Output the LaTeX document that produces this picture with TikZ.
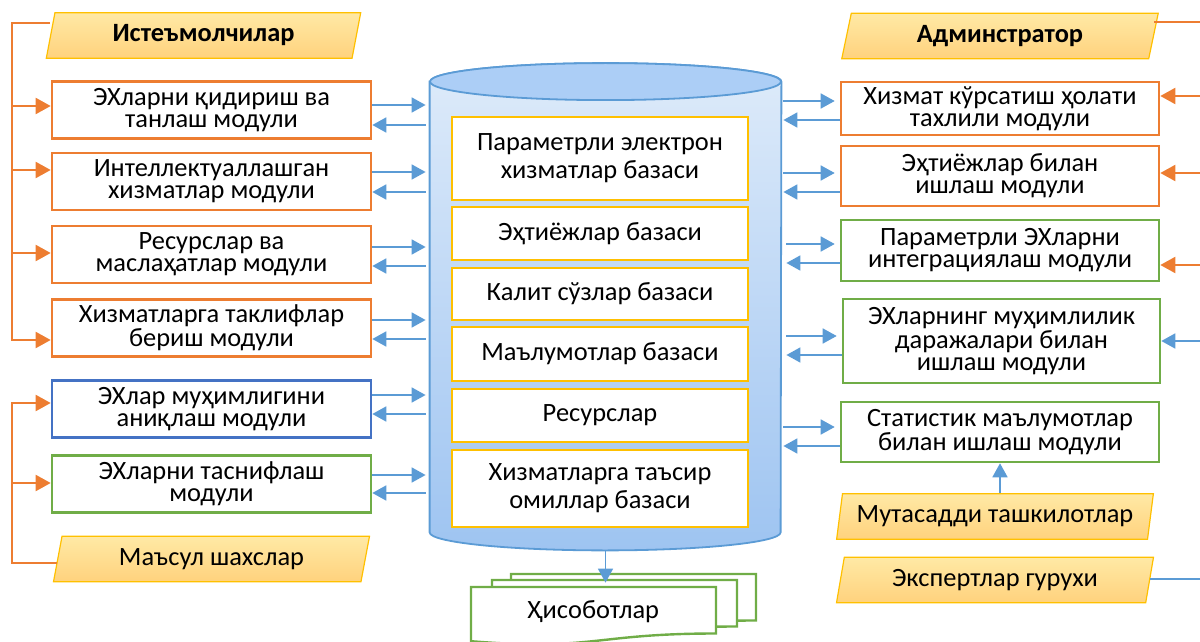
\documentclass[tikz,border=0pt]{standalone}
\usepackage{fontspec}
\setmainfont{Carlito}
\usepackage{tikz}
\usetikzlibrary{arrows.meta,shapes.geometric}

\definecolor{orln}{RGB}{237,125,49}
\definecolor{blln}{RGB}{91,155,213}
\definecolor{grln}{RGB}{112,173,71}
\definecolor{dkbl}{RGB}{68,114,196}
\definecolor{gold}{RGB}{255,192,0}
\definecolor{partop}{RGB}{255,233,165}
\definecolor{parbot}{RGB}{255,210,125}
\definecolor{cyltop}{RGB}{222,235,250}
\definecolor{cylbot}{RGB}{158,196,241}
\definecolor{cylcap}{RGB}{172,206,246}

\newcommand{\repdoc}[2]{\draw[docbox] (#1,#2) -- ++(245,0) -- ++(0,46.5) .. controls +(-122.5,0) and +(122.5,10) .. ++(-245,7.7) -- cycle;}

\begin{document}
\begin{tikzpicture}[x=0.5pt,y=-0.5pt,
	every node/.style={font=\fontsize{13.2pt}{11pt}\selectfont},
	modbox/.style={draw, line width=1.3pt, fill=white, minimum width=159.5pt, minimum height=28.5pt, align=center, inner sep=0pt},
	orbox/.style={modbox, draw=orln},
	grbox/.style={modbox, draw=grln},
	bubox/.style={modbox, draw=dkbl},
	dbpart/.style={draw=gold, line width=0.6pt, fill=white, minimum width=148pt, align=center, inner sep=0pt, font=\fontsize{13.2pt}{14pt}\selectfont},
	actor/.style={trapezium, trapezium left angle=76, trapezium right angle=104, trapezium stretches=true, draw=gold, line width=0.6pt, top color=partop, bottom color=parbot, minimum width=158.5pt, minimum height=22.75pt, inner sep=0pt},
	docbox/.style={draw=grln, line width=1.2pt, fill=white},
	orarr/.style={draw=orln, line width=1pt, -{Triangle[length=7.5pt,width=8pt]}},
	blarr/.style={draw=blln, line width=0.9pt, -{Triangle[length=7pt,width=7.5pt]}}]
\useasboundingbox (0,0) rectangle (1200,642);
\clip (0,0) rectangle (1200,642);
\coordinate (lbus) at (12,0);
\coordinate (rbus) at (1215,0);

\node[minimum width=175.5pt, minimum height=225pt, inner sep=0pt] (db) at (605.5,307) {};
\path[draw=blln, line width=0.9pt, top color=cyltop, bottom color=cylbot] (db.north west) -- (db.south west) arc[start angle=180, end angle=360, x radius=87.75pt, y radius=9pt] -- (db.north east) arc[start angle=0, end angle=180, x radius=87.75pt, y radius=9.25pt] -- cycle;
\draw[blln, line width=0.9pt, fill=cylcap] (db.north) ellipse [x radius=87.75pt, y radius=9.25pt];

\node[dbpart, minimum height=41.5pt] (pars) at (600,158.5) {Параметрли электрон\\хизматлар базаси};
\node[dbpart, minimum height=26.5pt] (needs) at (600,233.5) {Эҳтиёжлар базаси};
\node[dbpart, minimum height=26pt] (keys) at (600,294) {Калит сўзлар базаси};
\node[dbpart, minimum height=27pt] (data) at (600,354) {Маълумотлар базаси};
\node[dbpart, minimum height=26.5pt] (res) at (600,415.5) {Ресурслар};
\node[dbpart, minimum height=38.5pt] (fact) at (600,488.5) {Хизматларга таъсир\\омиллар базаси};

\node[orbox] (m1) at (211.5,110) {ЭХларни қидириш ва\\танлаш модули};
\node[orbox] (m2) at (211.5,181.5) {Интеллектуаллашган\\хизматлар модули};
\node[orbox] (m3) at (211.5,254.5) {Ресурслар ва\\маслаҳатлар модули};
\node[orbox] (m4) at (211.5,328) {Хизматларга таклифлар\\бериш модули};
\node[bubox] (m5) at (211.5,409) {ЭХлар муҳимлигини\\аниқлаш модули};
\node[grbox] (m6) at (211.5,484) {ЭХларни таснифлаш\\модули};

\node[orbox, minimum width=159pt, minimum height=26.5pt] (r1) at (1000,108.5) {Хизмат кўрсатиш ҳолати\\тахлили модули};
\node[orbox, minimum width=159pt, minimum height=30pt] (r2) at (1000,176) {Эҳтиёжлар билан\\ишлаш модули};
\node[grbox, minimum width=159pt, minimum height=30.5pt] (r3) at (1000,250.5) {Параметрли ЭХларни\\интеграциялаш модули};
\node[grbox, minimum width=158.5pt, minimum height=42pt] (r4) at (1001.5,341) {ЭХларнинг муҳимлилик\\даражалари билан\\ишлаш модули};
\node[grbox, minimum width=159pt, minimum height=30pt] (r5) at (1000,432) {Статистик маълумотлар\\билан ишлаш модули};

\node[actor, font=\fontsize{13.2pt}{11pt}\selectfont\bfseries] (cons) at (203.5,35.5) {Истеъмолчилар};
\node[actor] (resp) at (211.5,559) {Маъсул шахслар};
\node[actor, font=\fontsize{13.2pt}{11pt}\selectfont\bfseries] (admin) at (1000,36) {Админстратор};
\node[actor] (orgs) at (995,516.5) {Мутасадди ташкилотлар};
\node[actor] (experts) at (995,580) {Экспертлар гурухи};

\repdoc{511}{574}
\repdoc{492}{580}
\repdoc{471}{587}
\node[minimum width=122.5pt, minimum height=25pt, inner sep=0pt] (rep) at (593.5,612) {Ҳисоботлар};

\draw[orarr] ([yshift=6.25pt]cons.west) -| ([yshift=-6pt]m4.west -| lbus) -- ([yshift=-6pt]m4.west);
\draw[orarr] ([yshift=2pt]m1.west -| lbus) -- ([yshift=2pt]m1.west);
\draw[orarr] ([yshift=5.75pt]m2.west -| lbus) -- ([yshift=5.75pt]m2.west);
\draw[orarr] ([yshift=0.75pt]m3.west -| lbus) -- ([yshift=0.75pt]m3.west);
\draw[orarr] ([yshift=-2pt]resp.west) -| ([yshift=3pt]m5.west -| lbus) -- ([yshift=3pt]m5.west);
\draw[orarr] ([yshift=0.5pt]m6.west -| lbus) -- ([yshift=0.5pt]m6.west);

\draw[blarr, shorten >=2pt] ([yshift=2.5pt]m1.east) -- ([yshift=2.5pt]m1.east -| db.west);
\draw[blarr, shorten <=2pt] ([yshift=-7.5pt]m1.east -| db.west) -- ([yshift=-7.5pt]m1.east);
\draw[blarr, shorten >=2pt] ([yshift=4.75pt]m2.east) -- ([yshift=4.75pt]m2.east -| db.west);
\draw[blarr, shorten <=2pt] ([yshift=-5.25pt]m2.east -| db.west) -- ([yshift=-5.25pt]m2.east);
\draw[blarr, shorten >=2pt] ([yshift=3.75pt]m3.east) -- ([yshift=3.75pt]m3.east -| db.west);
\draw[blarr, shorten <=2pt] ([yshift=-5.75pt]m3.east -| db.west) -- ([yshift=-5.75pt]m3.east);
\draw[blarr, shorten >=2pt] ([yshift=4pt]m4.east) -- ([yshift=4pt]m4.east -| db.west);
\draw[blarr, shorten <=2pt] ([yshift=-5.5pt]m4.east -| db.west) -- ([yshift=-5.5pt]m4.east);
\draw[blarr, shorten >=2pt] ([yshift=7pt]m5.east) -- ([yshift=7pt]m5.east -| db.west);
\draw[blarr, shorten <=2pt] ([yshift=-2.5pt]m5.east -| db.west) -- ([yshift=-2.5pt]m5.east);
\draw[blarr, shorten >=2pt] ([yshift=4.5pt]m6.east) -- ([yshift=4.5pt]m6.east -| db.west);
\draw[blarr, shorten <=2pt] ([yshift=-4.5pt]m6.east -| db.west) -- ([yshift=-4.5pt]m6.east);

\draw[blarr, shorten <=1pt, shorten >=2.5pt] ([yshift=3.75pt]r1.west -| db.east) -- ([yshift=3.75pt]r1.west);
\draw[blarr, shorten >=1pt] ([yshift=-5.75pt]r1.west) -- ([yshift=-5.75pt]r1.west -| db.east);
\draw[blarr, shorten <=1pt, shorten >=2.5pt] ([yshift=1.5pt]r2.west -| db.east) -- ([yshift=1.5pt]r2.west);
\draw[blarr, shorten >=1pt] ([yshift=-8pt]r2.west) -- ([yshift=-8pt]r2.west -| db.east);
\draw[blarr, shorten <=2.5pt, shorten >=2.5pt] ([yshift=3.25pt]r3.west -| db.east) -- ([yshift=3.25pt]r3.west);
\draw[blarr, shorten >=2.5pt] ([yshift=-6.25pt]r3.west) -- ([yshift=-6.25pt]r3.west -| db.east);
\draw[blarr, shorten <=2.5pt, shorten >=2.5pt] ([yshift=2.5pt]r4.west -| db.east) -- ([yshift=2.5pt]r4.west);
\draw[blarr, shorten >=2.5pt] ([yshift=-7pt]r4.west) -- ([yshift=-7pt]r4.west -| db.east);
\draw[blarr, shorten <=1pt, shorten >=2.5pt] ([yshift=2.5pt]r5.west -| db.east) -- ([yshift=2.5pt]r5.west);
\draw[blarr, shorten >=1pt] ([yshift=-7pt]r5.west) -- ([yshift=-7pt]r5.west -| db.east);

\draw[orarr] ([yshift=7pt]admin.east) -| ([yshift=-7.25pt]r3.east -| rbus) -- ([yshift=-7.25pt]r3.east);
\draw[orarr] ([yshift=6.25pt]r1.east -| rbus) -- ([yshift=6.25pt]r1.east);
\draw[orarr] ([yshift=1.5pt]r2.east -| rbus) -- ([yshift=1.5pt]r2.east);
\draw[blarr] ([yshift=0.5pt]experts.east) -| (r4.east -| rbus) -- (r4.east);
\draw[blarr] (orgs.north -| r5.south) -- (r5.south);
\draw[blarr] ([yshift=-9pt]db.south) -- ([yshift=2pt]rep.north -| db.south);
\end{tikzpicture}
\end{document}
